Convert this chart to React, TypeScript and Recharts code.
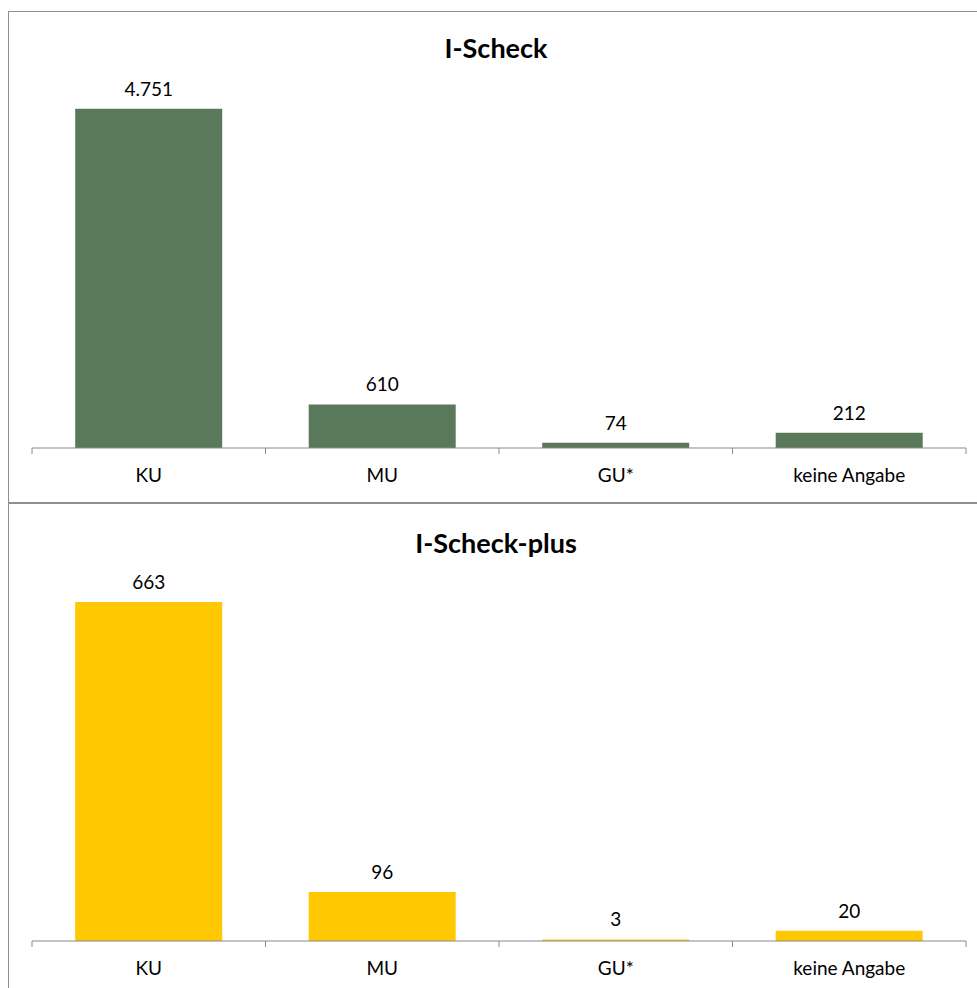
import React from 'react';
import { BarChart, Bar, XAxis, YAxis, LabelList } from 'recharts';

const categories = ['KU', 'MU', 'GU*', 'keine Angabe'];
const iScheckValues = [4751, 610, 74, 212];
const iScheckPlusValues = [663, 96, 3, 20];
const iScheckTitle = 'I-Scheck';
const iScheckPlusTitle = 'I-Scheck-plus';

const iScheckData = categories.map((c, i) => ({ name: c, value: iScheckValues[i] }));
const iScheckPlusData = categories.map((c, i) => ({ name: c, value: iScheckPlusValues[i] }));

const FONT = 'Lato, "Open Sans", sans-serif';
const AXIS_COLOR = '#898989';

const formatDe = (v: any) => String(v).replace(/\B(?=(\d{3})+(?!\d))/g, '.');

function CategoryTick(props: any) {
  const { x, y, payload, index } = props;
  const half = payload && payload.offset ? payload.offset : 116.75;
  const isLast = index === categories.length - 1;
  return (
    <g>
      <line x1={x - half} y1={y} x2={x - half} y2={y + 6} stroke={AXIS_COLOR} strokeWidth={1} />
      {isLast && <line x1={x + half} y1={y} x2={x + half} y2={y + 6} stroke={AXIS_COLOR} strokeWidth={1} />}
      <text x={x} y={y + 34} textAnchor="middle" fontSize={19} fill="#000" fontFamily={FONT}>
        {payload.value}
      </text>
    </g>
  );
}

function Panel(props: {
  data: any[];
  title: string;
  color: string;
  max: number;
  top: number;
  height: number;
  plotTop: number;
  plotBottom: number;
  titleTop: number;
  labelOffset: number;
}) {
  const { data, title, color, max, top, height, plotTop, plotBottom, titleTop, labelOffset } = props;
  const axisHeight = 40;
  return (
    <>
      <div
        style={{
          position: 'absolute',
          left: 0,
          top: titleTop,
          width: 992,
          textAlign: 'center',
          fontFamily: FONT,
          fontWeight: 700,
          fontSize: 27,
          lineHeight: '27px',
          color: '#000',
        }}
      >
        {title}
      </div>
      <div style={{ position: 'absolute', left: 0, top }}>
        <BarChart
          width={977}
          height={height}
          data={data}
          margin={{ top: plotTop, right: 11, left: 32, bottom: height - plotBottom - axisHeight }}
          barCategoryGap="18.5%"
        >
          <XAxis
            dataKey="name"
            height={axisHeight}
            axisLine={{ stroke: AXIS_COLOR, strokeWidth: 1 }}
            tickLine={false}
            tickSize={0}
            tickMargin={0}
            tick={<CategoryTick />}
            interval={0}
          />
          <YAxis hide domain={[0, max]} width={0} />
          <Bar dataKey="value" fill={color} isAnimationActive={false}>
            <LabelList
              dataKey="value"
              position="top"
              offset={labelOffset}
              formatter={formatDe}
              style={{ fontFamily: FONT, fontSize: 19, fill: '#000' }}
            />
          </Bar>
        </BarChart>
      </div>
    </>
  );
}

export default function App() {
  return (
    <div
      style={{
        position: 'absolute',
        left: 0,
        top: 0,
        width: 977,
        height: 988,
        overflow: 'hidden',
        background: '#fff',
        fontFamily: FONT,
      }}
    >
      <div
        style={{
          position: 'absolute',
          left: 8,
          top: 11,
          width: 1000,
          height: 492,
          boxSizing: 'border-box',
          border: '1.5px solid #8f8f8f',
        }}
      />
      <div
        style={{
          position: 'absolute',
          left: 8,
          top: 503,
          width: 1000,
          height: 600,
          boxSizing: 'border-box',
          border: '1.5px solid #8f8f8f',
        }}
      />
      <Panel
        data={iScheckData}
        title={iScheckTitle}
        color="#5A785A"
        max={5000}
        top={0}
        height={503}
        plotTop={91}
        plotBottom={448}
        titleTop={34}
        labelOffset={13}
      />
      <Panel
        data={iScheckPlusData}
        title={iScheckPlusTitle}
        color="#FFC800"
        max={700}
        top={504}
        height={484}
        plotTop={79}
        plotBottom={437}
        titleTop={529}
        labelOffset={13}
      />
    </div>
  );
}
